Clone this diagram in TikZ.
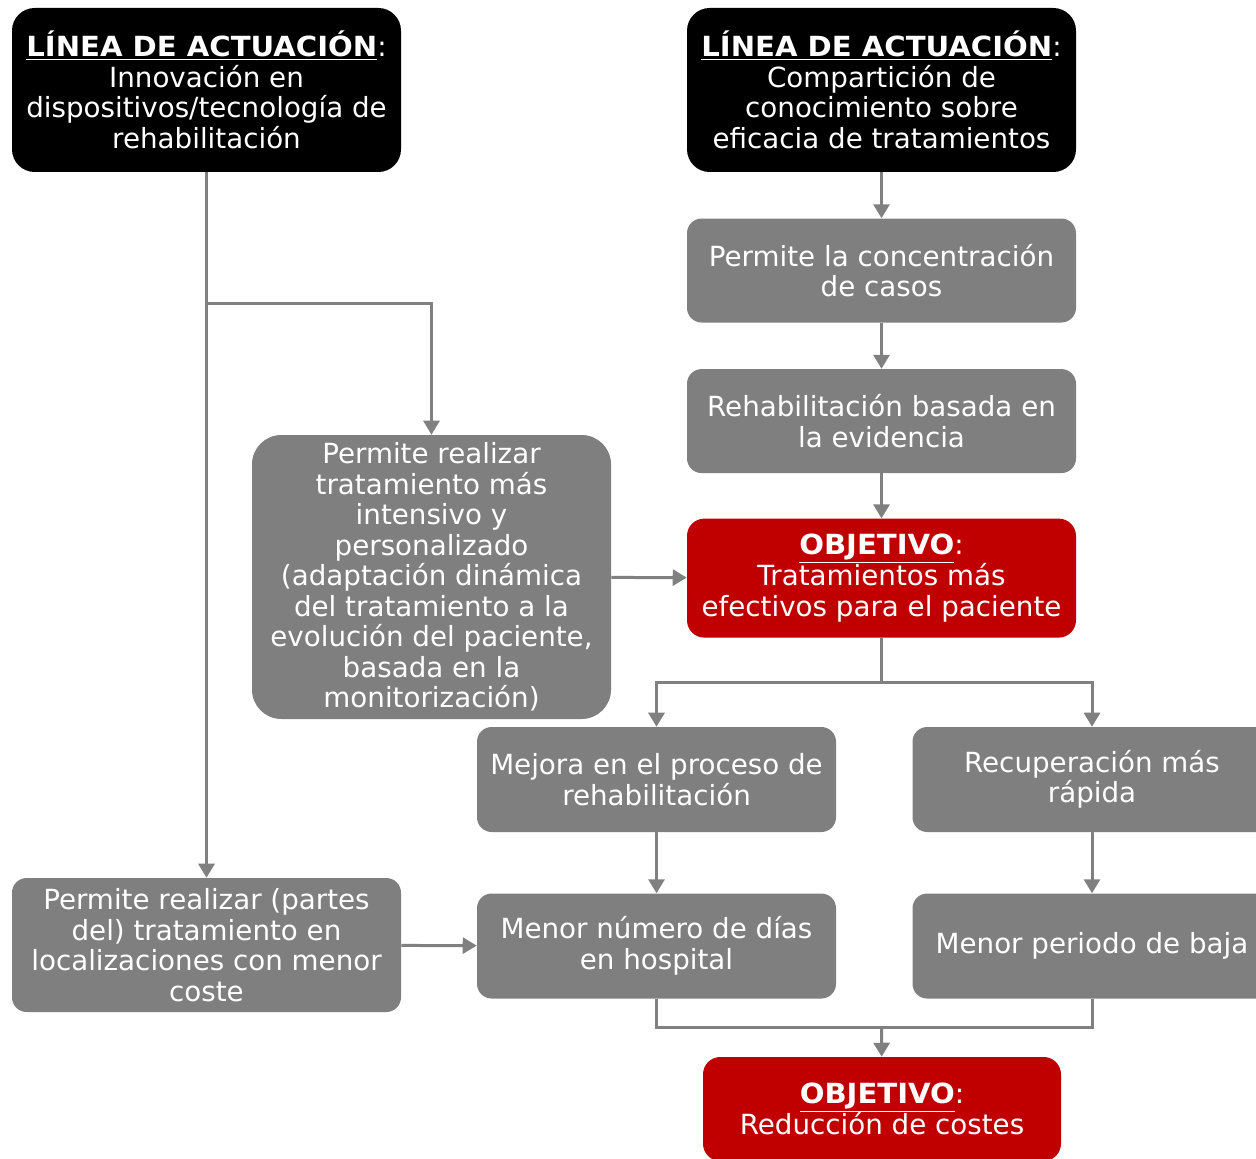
\documentclass[tikz,border=0pt]{standalone}
\usepackage{fontspec}
\setmainfont{DejaVu Sans}[BoldFeatures={FakeStretch=1.05}]
\usetikzlibrary{arrows.meta,positioning,shapes}

\definecolor{boxgray}{HTML}{7F7F7F}
\definecolor{goalred}{HTML}{C00000}
\definecolor{linkgray}{HTML}{808080}

\newcommand{\headline}[1]{\underline{\textbf{#1}}:}

\begin{document}
\begin{tikzpicture}[x=0.75pt,y=-0.75pt,>={Triangle[length=10.5pt,width=12pt]}]
\tikzstyle{block}=[rectangle,text=white,align=center,inner sep=0pt,font=\fontsize{20.8}{22.9}\selectfont]
\tikzstyle{linebox}=[block,fill=black,rounded corners=17pt,minimum width=291.75pt,minimum height=123pt]
\tikzstyle{stepbox}=[block,fill=boxgray,rounded corners=11pt,minimum width=291.75pt,minimum height=78pt]
\tikzstyle{effectbox}=[block,fill=boxgray,rounded corners=11pt,minimum width=269.25pt,minimum height=78.75pt]
\tikzstyle{goalbox}=[block,fill=goalred,rounded corners=13pt,minimum width=291.75pt,minimum height=89.25pt]
\tikzstyle{link}=[draw=linkgray,line width=2.25pt]

\useasboundingbox (0,0) rectangle (1256,1159);

\node[linebox]  (tech)    at (206.5,90) {\headline{LÍNEA DE ACTUACIÓN}\\Innovación en\\dispositivos/tecnología de\\rehabilitación};
\node[linebox]  (share)   at (881.5,90) {\headline{LÍNEA DE ACTUACIÓN}\\Compartición de\\conocimiento sobre\\eficacia de tratamientos};
\node[stepbox]  (cases)   [below=34.5pt of share] {Permite la concentración\\de casos};
\node[stepbox]  (evidence)[below=34.5pt of cases] {Rehabilitación basada en\\la evidencia};
\node[goalbox]  (goal1)   [below=33.75pt of evidence] {\headline{OBJETIVO}\\Tratamientos más\\efectivos para el paciente};
\node[block,fill=boxgray,rounded corners=22pt,minimum width=269.25pt,minimum height=213pt]
                (intense) at (431.5,577) {Permite realizar\\tratamiento más\\intensivo y\\personalizado\\(adaptación dinámica\\del tratamiento a la\\evolución del paciente,\\basada en la\\monitorización)};
\node[effectbox](process) at (656.5,779.5) {Mejora en el proceso de\\rehabilitación};
\node[effectbox](recover) at (1092,779.5) {Recuperación más\\rápida};
\node[effectbox](days)    [below=45.75pt of process] {Menor número de días\\en hospital};
\node[effectbox](leave)   [below=45.75pt of recover] {Menor periodo de baja};
\node[stepbox,minimum height=100.5pt] (remote) at (206.5,945) {Permite realizar (partes\\del) tratamiento en\\localizaciones con menor\\coste};
\node[goalbox,minimum width=268.5pt,minimum height=78pt] (goal2) at (882,1109) {\headline{OBJETIVO}\\Reducción de costes};

\coordinate (split1) at (206.5,303);
\coordinate (split2) at (881.5,682);
\coordinate (join)   at (881.5,1027);

% vertical chain on the right
\draw[link,->] (share) -- (cases);
\draw[link,->] (cases) -- (evidence);
\draw[link,->] (evidence) -- (goal1);
% left branch
\draw[link,->] (tech) -- (remote);
\draw[link,->] (split1) -| (intense.north);
\draw[link,->] (intense) -- (goal1);
\draw[link,->] (remote) -- (days);
% effects
\draw[link] (goal1.south) -- (split2);
\draw[link,->] (split2) -| (process.north);
\draw[link,->] (split2) -| (recover.north);
\draw[link,->] (process) -- (days);
\draw[link,->] (recover) -- (leave);
\draw[link] (days.south) |- (join);
\draw[link] (leave.south) |- (join);
\draw[link,->] (join) -- (goal2);
\end{tikzpicture}
\end{document}
